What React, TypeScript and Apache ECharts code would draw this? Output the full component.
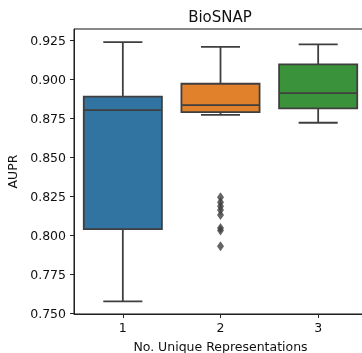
import React, { useEffect, useRef } from 'react';
import * as echarts from 'echarts';

const categories = ['1', '2', '3'];
const whiskerLow = [0.7575, 0.8771, 0.872];
const q1 = [0.8038, 0.8788, 0.8812];
const median = [0.8801, 0.8833, 0.891];
const q3 = [0.8887, 0.897, 0.9094];
const whiskerHigh = [0.9237, 0.9207, 0.9222];
const boxColors = ['#3274A1', '#E1812C', '#3A923A'];
const outlierCategory = ['2', '2', '2', '2', '2', '2', '2', '2'];
const outlierValues = [0.8242, 0.821, 0.8185, 0.816, 0.8128, 0.8045, 0.803, 0.7928];
const yTicks = [0.75, 0.775, 0.8, 0.825, 0.85, 0.875, 0.9, 0.925];

const FONT = 'DejaVu Sans';
const LINE = '#3f3f3f';

export default function App() {
  const ref = useRef<HTMLDivElement>(null);
  useEffect(() => {
    if (!ref.current) return;
    document.body.style.margin = '0';
    document.body.style.overflow = 'hidden';
    const chart = echarts.init(ref.current, undefined, { renderer: 'svg' });
    const boxData = categories.map((c, i) => [i, whiskerLow[i], q1[i], median[i], q3[i], whiskerHigh[i]]);
    const outData = outlierValues.map((v, i) => [outlierCategory[i], v]);
    chart.setOption({
      animation: false,
      title: {
        text: 'BioSNAP',
        left: 220,
        top: 9,
        padding: 0,
        textAlign: 'center',
        textStyle: { fontFamily: FONT, fontSize: 15, fontWeight: 'normal', color: '#111' },
      },
      grid: {
        left: 74,
        right: 0,
        top: 29,
        bottom: 39,
        outerBoundsMode: 'none',
        containLabel: false,
        show: true,
        borderColor: '#111',
        borderWidth: 1,
        backgroundColor: 'transparent',
      },
      xAxis: {
        type: 'category',
        data: categories,
        boundaryGap: true,
        name: 'No. Unique Representations',
        nameLocation: 'middle',
        nameGap: 26,
        nameTextStyle: { fontFamily: FONT, fontSize: 12.5, color: '#111' },
        axisLine: { show: true, lineStyle: { color: '#222', width: 1 } },
        axisTick: { show: true, alignWithLabel: true, length: 4, lineStyle: { color: '#222' } },
        axisLabel: { fontFamily: FONT, fontSize: 12.5, color: '#111', margin: 7 },
        splitLine: { show: false },
      },
      yAxis: {
        type: 'value',
        min: 0.7494,
        max: 0.9321,
        name: 'AUPR',
        nameLocation: 'middle',
        nameGap: 50,
        nameTextStyle: { fontFamily: FONT, fontSize: 12.5, color: '#111' },
        axisLine: { show: true, lineStyle: { color: '#222', width: 1 } },
        axisTick: { show: true, length: 4, customValues: yTicks, lineStyle: { color: '#222' } },
        axisLabel: {
          fontFamily: FONT,
          fontSize: 12.5,
          color: '#111',
          margin: 8,
          customValues: yTicks,
          formatter: (v: number) => v.toFixed(3),
        },
        splitLine: { show: false },
      },
      series: [
        {
          type: 'custom',
          data: boxData,
          encode: { x: 0, y: [1, 2, 3, 4, 5] },
          renderItem: (params: any, api: any) => {
            const i = api.value(0);
            const lo = api.coord([i, api.value(1)]);
            const a = api.coord([i, api.value(2)]);
            const m = api.coord([i, api.value(3)]);
            const b = api.coord([i, api.value(4)]);
            const hi = api.coord([i, api.value(5)]);
            const band = api.size([1, 0])[0];
            const w = band * 0.8;
            const cap = w / 4;
            const x = lo[0];
            const ls = { stroke: LINE, lineWidth: 1.8 };
            return {
              type: 'group',
              children: [
                { type: 'line', shape: { x1: x, y1: hi[1], x2: x, y2: b[1] }, style: ls },
                { type: 'line', shape: { x1: x, y1: a[1], x2: x, y2: lo[1] }, style: ls },
                { type: 'line', shape: { x1: x - cap, y1: hi[1], x2: x + cap, y2: hi[1] }, style: ls },
                { type: 'line', shape: { x1: x - cap, y1: lo[1], x2: x + cap, y2: lo[1] }, style: ls },
                {
                  type: 'rect',
                  shape: { x: x - w / 2, y: b[1], width: w, height: a[1] - b[1] },
                  style: { fill: boxColors[params.dataIndex], stroke: LINE, lineWidth: 1.8 },
                },
                { type: 'line', shape: { x1: x - w / 2, y1: m[1], x2: x + w / 2, y2: m[1] }, style: ls },
              ],
            };
          },
          z: 2,
        },
        {
          type: 'scatter',
          data: outData,
          symbol: 'diamond',
          symbolSize: [7, 10],
          itemStyle: { color: LINE },
          z: 3,
        },
      ],
    });
    return () => chart.dispose();
  }, []);
  return <div ref={ref} style={{ position: 'fixed', left: 0, top: 0, width: 367, height: 353 }} />;
}
